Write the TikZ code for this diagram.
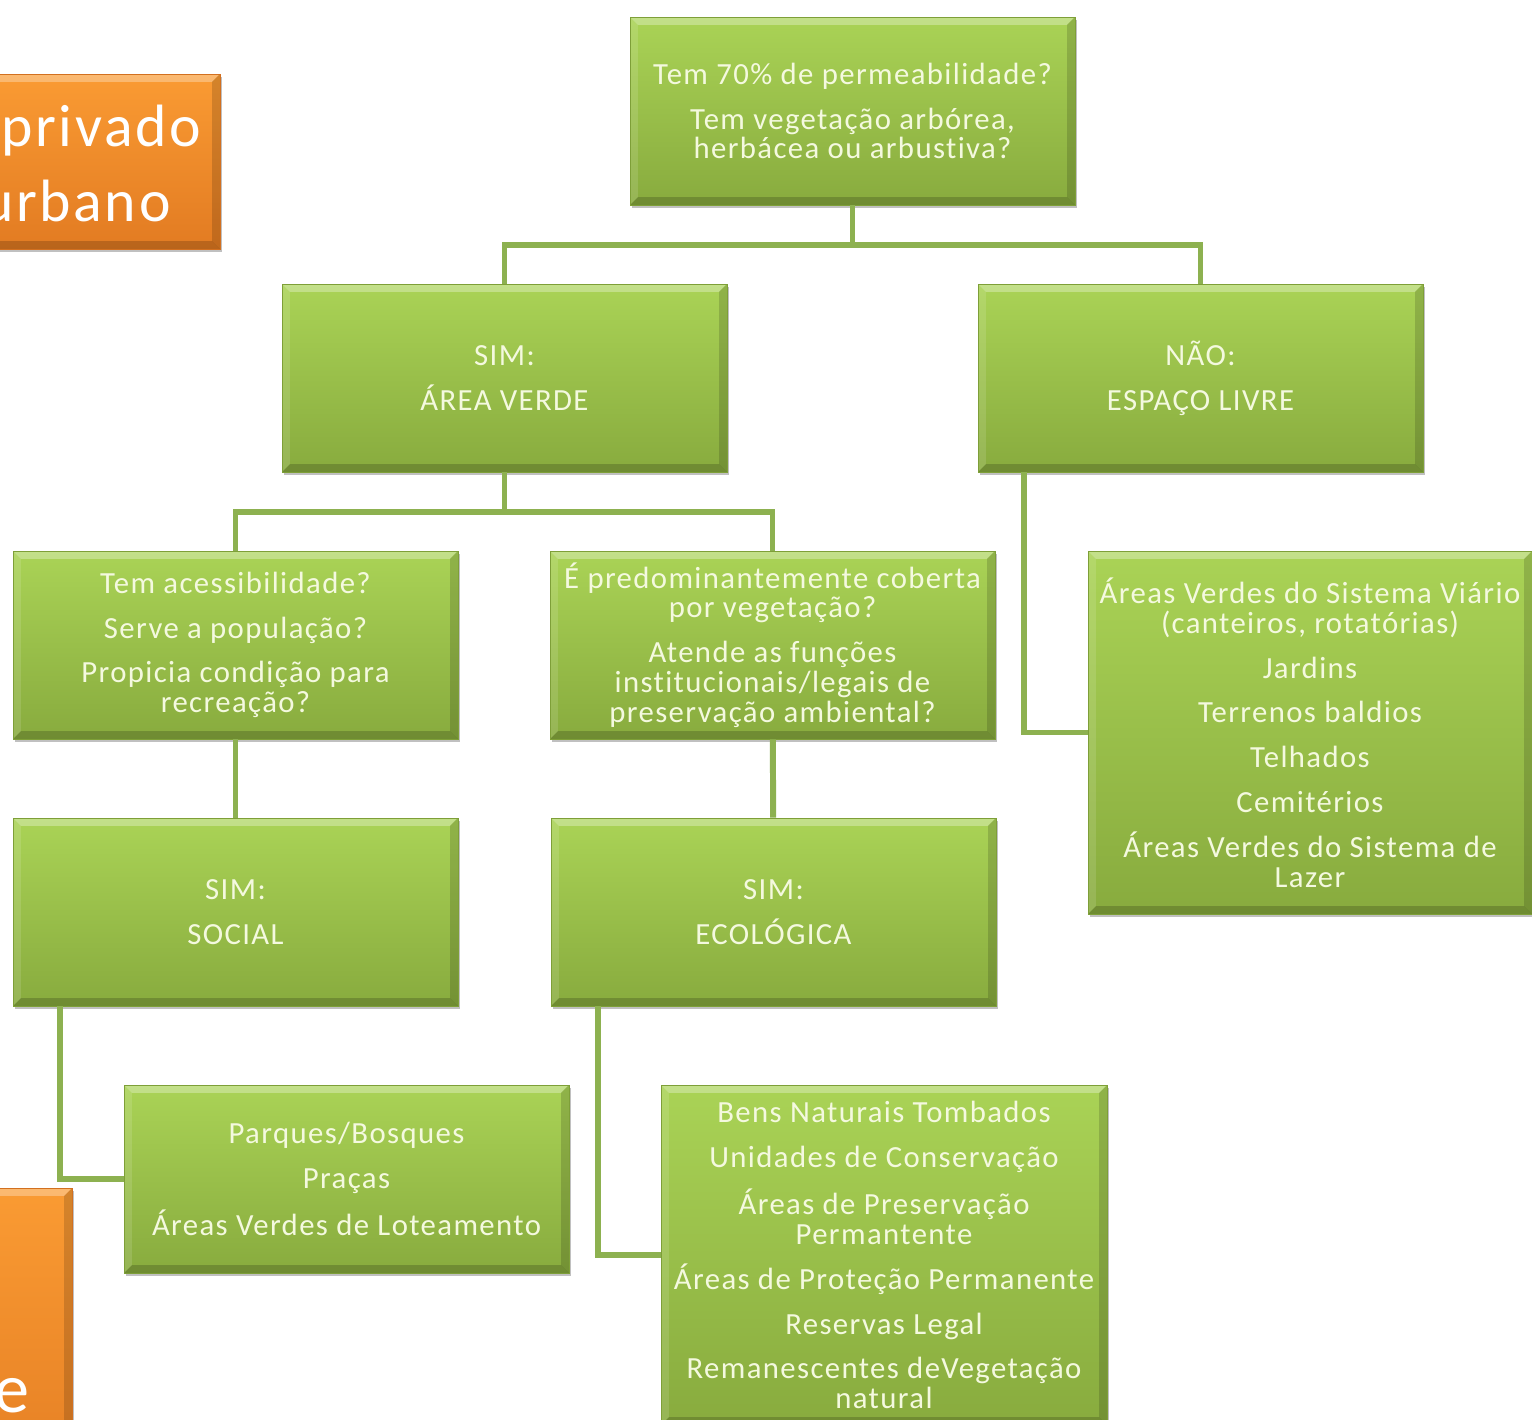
\documentclass[tikz,border=0pt]{standalone}
\usepackage{fontspec}
\setmainfont{Carlito}[LetterSpace=4.5,Ligatures=NoCommon]
\usetikzlibrary{positioning,calc,shadows}
\definecolor{boxtop}{HTML}{AAD356}
\definecolor{boxbot}{HTML}{88AB3E}
\definecolor{boxedge}{HTML}{7E9F38}
\definecolor{boxtext}{HTML}{F4F9DF}
\definecolor{wire}{HTML}{8DB150}
\definecolor{orgtop}{HTML}{FA9B33}
\definecolor{orgbot}{HTML}{E27B22}
\definecolor{orgedge}{HTML}{D27020}

\tikzset{
  bevel/.style={path picture={
    \fill[white,opacity=.30] (path picture bounding box.north west) -- (path picture bounding box.north east)
      -- ([xshift=-4.5pt,yshift=-4.5pt]path picture bounding box.north east) -- ([xshift=4.5pt,yshift=-4.5pt]path picture bounding box.north west) -- cycle;
    \fill[white,opacity=.12] (path picture bounding box.north west) -- (path picture bounding box.south west)
      -- ([xshift=4.5pt,yshift=4.5pt]path picture bounding box.south west) -- ([xshift=4.5pt,yshift=-4.5pt]path picture bounding box.north west) -- cycle;
    \fill[black,opacity=.15] (path picture bounding box.north east) -- (path picture bounding box.south east)
      -- ([xshift=-4.5pt,yshift=4.5pt]path picture bounding box.south east) -- ([xshift=-4.5pt,yshift=-4.5pt]path picture bounding box.north east) -- cycle;
    \fill[black,opacity=.18] (path picture bounding box.south west) -- (path picture bounding box.south east)
      -- ([xshift=-4.5pt,yshift=4.5pt]path picture bounding box.south east) -- ([xshift=4.5pt,yshift=4.5pt]path picture bounding box.south west) -- cycle;
  }},
  greenbox/.style={rectangle,draw=boxedge,line width=.5pt,top color=boxtop,bottom color=boxbot,
    text=boxtext,align=center,minimum width=8.9cm,minimum height=3.76cm,inner sep=2pt,
    font=\fontsize{17.5}{17}\selectfont,bevel,
    drop shadow={shadow xshift=1.2pt,shadow yshift=-1.5pt,opacity=.35,fill=black!70}},
  orangebox/.style={rectangle,draw=orgedge,line width=.5pt,top color=orgtop,bottom color=orgbot,bevel,
    drop shadow={shadow xshift=1.2pt,shadow yshift=-1.5pt,opacity=.35,fill=black!70}},
  orangetext/.style={text=white,align=left,inner sep=0pt},
  wire/.style={draw=wire,line width=3.4pt}
}

\begin{document}
\begin{tikzpicture}[x=0.02cm,y=-0.02cm]
\fill[white] (0,0) rectangle (1532,1420);
\clip (0,0) rectangle (1532,1420);
\useasboundingbox (0,0) rectangle (1532,1420);

% orange boxes cut by the page edge
\node[orangebox,minimum width=5.6cm,minimum height=3.5cm] (privbox) at (80,161.5) {};
\node[orangetext,font=\fontsize{34}{42.5}\selectfont,anchor=north west] (privtext) at (1,105) {privado\\\hspace*{-11pt}urbano};
\node[orangebox,minimum width=5.44cm,minimum height=6.64cm] (lowbox) at (-64,1354) {};
\node[orangetext,font=\fontsize{40}{40}\selectfont,anchor=base east] (lowtext) at (30,1412) {e};

% green boxes
\node[greenbox] (top) at (852.5,111) {Tem 70\% de permeabilidade?\\[8.5pt]Tem vegetação arbórea,\\herbácea ou arbustiva?};
\node[greenbox] (areaverde) at (504.5,378) {SIM:\\[8.5pt]ÁREA VERDE};
\node[greenbox] (espaco) at (1200.5,378) {NÃO:\\[8.5pt]ESPAÇO LIVRE};
\node[greenbox] (acess) at (235.5,645) {Tem acessibilidade?\\[8.5pt]Serve a população?\\[8.5pt]Propicia condição para\\recreação?};
\node[greenbox] (predom) at (772.5,645) {É predominantemente coberta\\por vegetação?\\[8.5pt]Atende as funções\\institucionais/legais de\\preservação ambiental?};
\node[greenbox,minimum width=8.88cm,minimum height=7.26cm] (viario) at (1310,732.5) {Áreas Verdes do Sistema Viário\\(canteiros, rotatórias)\\[8.5pt]Jardins\\[8.5pt]Terrenos baldios\\[8.5pt]Telhados\\[8.5pt]Cemitérios\\[8.5pt]Áreas Verdes do Sistema de\\Lazer};
\node[greenbox] (social) at (235.5,912) {SIM:\\[8.5pt]SOCIAL};
\node[greenbox] (ecol) at (773.5,912) {SIM:\\[8.5pt]ECOLÓGICA};
\node[greenbox] (parques) at (346.5,1179) {Parques/Bosques\\[8.5pt]Praças\\[8.5pt]Áreas Verdes de Loteamento};
\node[greenbox,minimum width=8.92cm,minimum height=6.8cm] (bens) at (884,1255) {Bens Naturais Tombados\\[8.5pt]Unidades de Conservação\\[8.5pt]Áreas de Preservação\\Permantente\\[8.5pt]Áreas de Proteção Permanente\\[8.5pt]Reservas Legal\\[8.5pt]Remanescentes deVegetação\\natural};

% connectors
\foreach \u/\v in {top/areaverde,top/espaco,areaverde/acess,areaverde/predom}{\draw[wire] (\u.south) -- ++(0,40) -| (\v.north);}
\foreach \u/\v in {acess/social,predom/ecol}{\draw[wire] (\u) -- (\v);}
\draw[wire] ($(espaco.south west)+(46,0)$) |- (viario.west);
\draw[wire] ($(social.south west)+(47,0)$) |- (parques.west);
\draw[wire] ($(ecol.south west)+(47,0)$) |- (bens.west);
\end{tikzpicture}
\end{document}
